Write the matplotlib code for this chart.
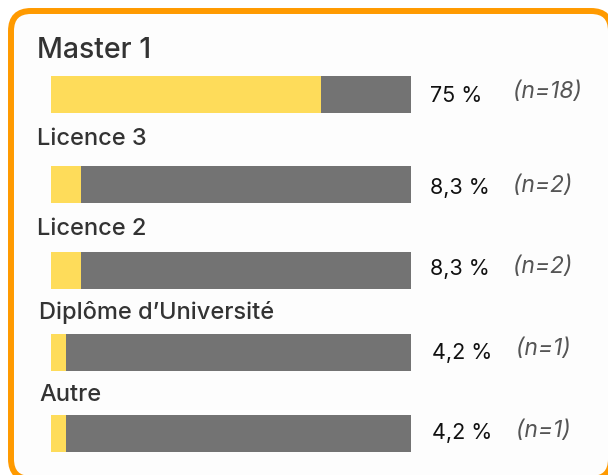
import matplotlib
matplotlib.use("Agg")
import matplotlib.pyplot as plt
from matplotlib.patches import FancyBboxPatch

categories = ["Master 1", "Licence 3", "Licence 2", "Diplôme d\u2019Université", "Autre"]
percent = [75.0, 8.3, 8.3, 4.2, 4.2]
counts = [18, 2, 2, 1, 1]
pct_labels = ["75 %", "8,3 %", "8,3 %", "4,2 %", "4,2 %"]

# layout (pixel positions)
W, H = 608, 475
bar_y = [94.5, 184, 270.5, 352.5, 433.5]
label_y = [51, 139, 229, 312, 395]
label_x = [37, 37, 37, 39, 39]
pct_x = [430, 430, 430, 432, 432]
pct_y = [96, 188, 269, 353, 433]
n_x = [513, 513, 513, 516, 516]
n_y = [92, 186, 267, 349, 431]

YELLOW = "#FEDC5A"
GREY = "#737373"
ORANGE = "#FF9A00"

plt.rcParams['font.family'] = ['Inter', 'DejaVu Sans']
fig = plt.figure(figsize=(W / 100, H / 100), dpi=100)
fig.patch.set_facecolor("white")

ax = fig.add_axes([0, 0, 1, 1])
ax.set_xlim(0, W)
ax.set_ylim(H, 0)
ax.axis("off")

box = FancyBboxPatch((11, 11), 600, 468, boxstyle="round,pad=0,rounding_size=20",
                     linewidth=4.3, edgecolor=ORANGE, facecolor="#FDFDFD")
ax.add_patch(box)

bax = fig.add_axes([51 / W, 0, 360 / W, 1])
bax.set_xlim(0, 100)
bax.set_ylim(H, 0)
bax.axis("off")
bax.patch.set_alpha(0)
bax.barh(bar_y, [100] * len(percent), height=37, color=GREY)
bax.barh(bar_y, percent, height=37, color=YELLOW)

for i, cat in enumerate(categories):
    fs = 20.5 if i == 0 else 17
    ax.text(label_x[i], label_y[i], cat, fontsize=fs, color="#333333",
            va="center", ha="left", fontweight="medium")
    ax.text(pct_x[i], pct_y[i], pct_labels[i], fontsize=15.5, color="#111111",
            va="center", ha="left")
    ax.text(n_x[i], n_y[i], f"(n={counts[i]})", fontsize=16.5, color="#555555",
            style="italic", va="center", ha="left")

fig.savefig("out.png", dpi=100)
